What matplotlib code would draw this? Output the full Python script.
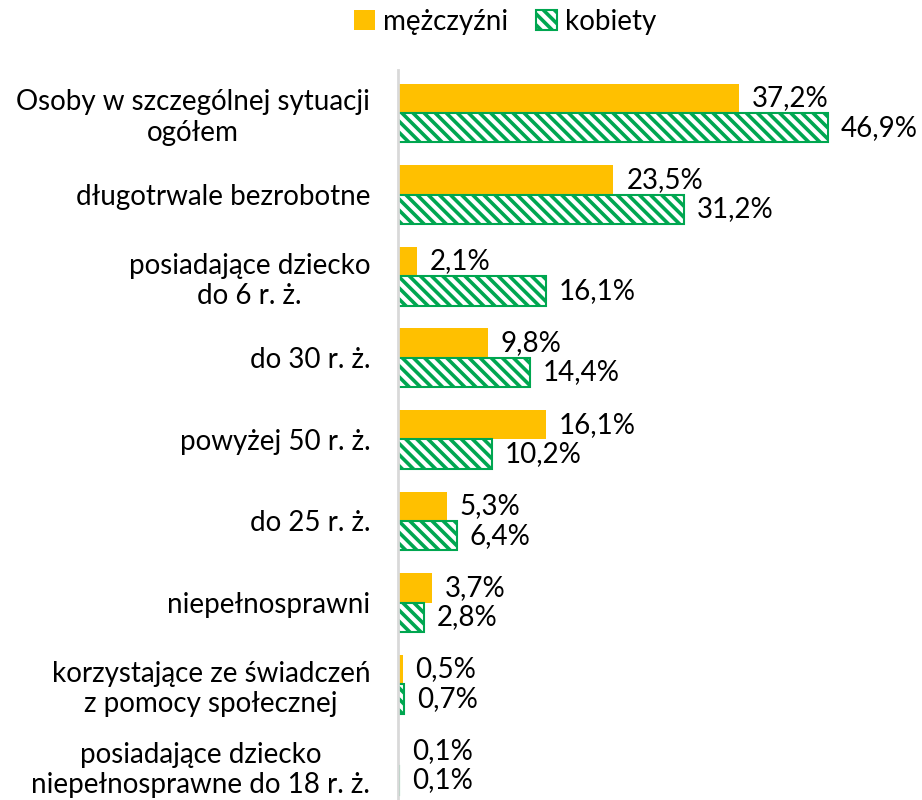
import matplotlib.pyplot as plt
import numpy as np
from matplotlib.patches import Patch

plt.rcParams['font.family'] = ['Lato', 'DejaVu Sans']
plt.rcParams['hatch.linewidth'] = 2.6

categories = [
    'Osoby w szczególnej sytuacji\nogółem',
    'długotrwale bezrobotne',
    'posiadające dziecko\ndo 6 r. ż.',
    'do 30 r. ż.',
    'powyżej 50 r. ż.',
    'do 25 r. ż.',
    'niepełnosprawni',
    'korzystające ze świadczeń\nz pomocy społecznej',
    'posiadające dziecko\nniepełnosprawne do 18 r. ż.',
]
men = [37.2, 23.5, 2.1, 9.8, 16.1, 5.3, 3.7, 0.5, 0.1]
women = [46.9, 31.2, 16.1, 14.4, 10.2, 6.4, 2.8, 0.7, 0.1]

orange = '#FFC000'
green = '#00A650'
hatch = '\\\\\\'

fig = plt.figure(figsize=(9.22, 8), dpi=100)
ax = fig.add_axes([398 / 922, 0, 1 - 398 / 922, 1 - 70 / 800])

y = np.arange(len(categories))
h = 0.36
ax.barh(y - h / 2, men, height=h, color=orange, edgecolor='none')
ax.barh(y + h / 2, women, height=h, color='white', edgecolor=green,
        hatch=hatch, linewidth=1.5)

def fmt(v):
    return f'{v:.1f}'.replace('.', ',') + '%'

for i in range(len(categories)):
    ax.text(men[i] + 1.4, y[i] - h / 2, fmt(men[i]), va='center', ha='left', fontsize=20)
    ax.text(women[i] + 1.4, y[i] + h / 2, fmt(women[i]), va='center', ha='left', fontsize=20)

ax.set_xlim(0, (922 - 398) / 9.17)
ax.set_ylim(8.42, -0.527)
ax.set_yticks(y)
ax.set_yticklabels(categories, fontsize=20, multialignment='center')
ax.tick_params(axis='y', length=0, pad=20)
ax.set_xticks([])
for s in ['top', 'right', 'bottom']:
    ax.spines[s].set_visible(False)
ax.spines['left'].set_color('#D9D9D9')
ax.spines['left'].set_linewidth(2)

handles = [Patch(facecolor=orange, edgecolor='none', label='mężczyźni'),
           Patch(facecolor='white', edgecolor=green, hatch=hatch, linewidth=1.5, label='kobiety')]
fig.legend(handles=handles, loc='center', bbox_to_anchor=(505 / 922, 1 - 22 / 800),
           ncol=2, frameon=False, fontsize=20, handlelength=0.75, handleheight=0.75,
           handletextpad=0.3, columnspacing=1.0)

fig.savefig('out.png', dpi=100)
